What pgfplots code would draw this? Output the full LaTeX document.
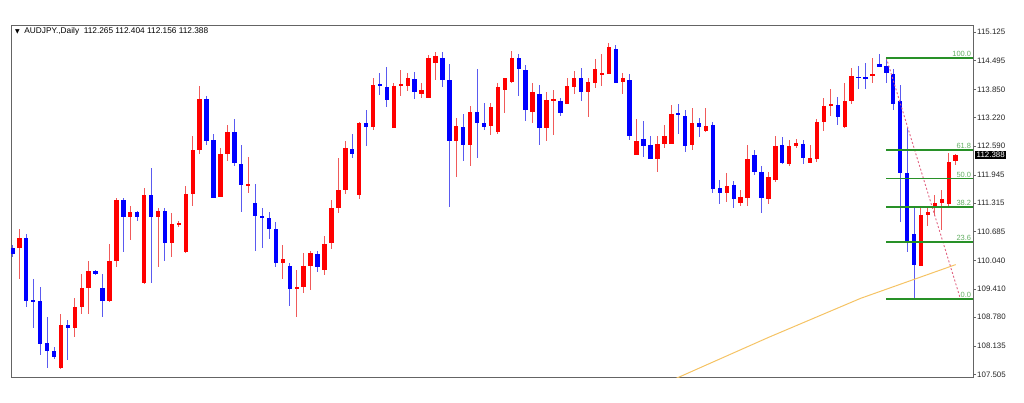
\documentclass[border=0pt]{standalone}
\usepackage{pgfplots}
\pgfplotsset{compat=1.18}
\usepackage{pgfplotstable}
\usetikzlibrary{calc}
\usepackage{fontspec}
\setmainfont{Liberation Sans}
\newfontfamily\dejavu{DejaVu Sans}
\definecolor{upc}{RGB}{255,0,0}
\definecolor{dnc}{RGB}{0,0,255}
\definecolor{upw}{RGB}{240,90,90}
\definecolor{dnw}{RGB}{90,90,240}
\definecolor{fibc}{RGB}{40,145,40}
\definecolor{fibt}{RGB}{100,175,100}
\definecolor{mac}{RGB}{245,195,100}
\definecolor{framec}{RGB}{100,100,100}
\definecolor{fibd}{RGB}{225,100,130}

\pgfplotstableread{
i o h l c
2 110.33 110.75 109.64 110.55
8 107.66 108.86 107.64 108.60
10 108.55 109.20 108.33 109.00
11 109.00 109.75 108.86 109.42
12 109.42 110.04 108.86 109.80
15 109.15 110.42 109.11 110.04
16 110.04 111.44 109.89 111.38
18 111.00 111.26 110.49 111.11
20 109.55 111.66 109.53 111.49
22 111.02 111.20 109.89 111.15
24 110.44 111.09 110.11 110.86
25 110.83 110.93 110.78 110.87
26 110.22 111.71 110.20 111.53
27 111.53 112.82 111.26 112.49
28 112.49 113.93 112.42 113.64
31 111.46 112.55 111.46 112.42
32 112.42 113.06 112.26 112.91
35 111.71 112.35 111.55 111.75
40 109.98 110.38 109.62 110.07
42 109.40 109.84 108.78 109.46
43 109.46 110.20 109.33 109.93
44 109.93 110.26 109.38 110.20
46 109.84 110.58 109.71 110.42
47 110.42 111.38 110.29 111.20
48 111.20 112.33 111.11 111.60
49 111.60 112.71 111.53 112.55
51 111.49 113.13 111.42 113.09
53 113.02 114.09 112.95 113.95
56 112.98 113.98 112.98 113.93
57 113.92 114.29 113.71 113.96
58 113.93 114.22 113.82 114.11
60 113.75 113.98 113.66 113.84
61 113.66 114.62 113.66 114.55
62 114.44 114.69 114.06 114.58
65 112.71 113.22 111.91 113.04
67 112.62 113.49 112.15 113.35
70 113.04 113.55 112.84 113.46
71 112.89 113.98 112.86 113.89
72 113.84 114.11 113.33 114.09
73 114.02 114.71 113.98 114.55
76 113.35 113.98 113.09 113.78
78 113.00 113.78 112.71 113.62
79 113.59 113.84 112.84 113.63
81 113.53 114.11 113.53 113.93
82 113.91 114.26 113.75 114.11
84 113.80 114.11 113.24 114.02
85 114.00 114.53 113.89 114.31
86 114.18 114.64 113.93 114.22
87 114.20 114.89 114.18 114.78
89 114.02 114.22 113.75 114.09
91 112.40 113.20 112.40 112.69
94 112.29 112.80 112.00 112.64
95 112.64 113.06 112.55 112.80
96 112.64 113.51 112.64 113.31
99 112.62 113.44 112.51 113.09
101 112.93 113.44 112.89 113.04
104 111.55 111.98 111.35 111.71
106 111.31 111.60 111.26 111.46
107 111.44 112.62 111.26 112.31
110 111.40 112.00 111.29 111.89
111 111.84 112.80 111.78 112.58
113 112.20 112.73 112.15 112.58
114 112.58 112.75 112.55 112.66
116 112.20 112.62 112.20 112.33
117 112.29 113.20 112.24 113.13
118 113.13 113.66 112.93 113.49
119 113.49 113.86 113.26 113.53
121 113.02 114.00 112.98 113.60
122 113.58 114.33 113.53 114.15
125 114.15 114.55 113.98 114.18
132 109.93 111.20 109.91 111.06
133 111.06 111.26 110.82 111.13
134 111.24 111.49 111.04 111.31
135 111.31 111.60 110.73 111.42
136 111.31 112.44 111.26 112.24
137 112.265 112.404 112.156 112.388
}\up

\pgfplotstableread{
i o h l c
1 110.31 110.38 110.11 110.18
3 110.55 110.64 109.00 109.15
4 109.16 109.64 108.53 109.12
5 109.13 109.46 107.93 108.18
6 108.20 108.78 107.66 108.02
7 108.04 108.11 107.86 107.89
9 108.60 108.71 107.82 108.53
13 109.80 109.82 109.73 109.75
14 109.42 109.75 108.78 109.15
17 111.38 111.44 110.24 111.00
19 111.11 111.15 110.93 111.00
21 111.49 112.09 109.53 111.02
23 111.15 111.20 110.04 110.44
29 113.64 113.71 112.60 112.71
30 112.73 112.86 111.44 111.44
33 112.91 113.20 112.15 112.20
34 112.20 112.60 111.11 111.73
36 111.33 111.75 110.26 111.04
37 111.04 111.20 110.33 111.00
38 110.98 111.13 110.51 110.75
39 110.75 110.89 109.89 109.98
41 109.93 109.98 109.02 109.40
45 110.18 110.26 109.78 109.89
50 112.53 112.86 112.33 112.42
52 113.09 113.40 112.58 113.00
54 113.97 114.22 113.73 113.93
55 113.91 114.35 113.46 113.62
59 114.09 114.24 113.64 113.78
63 114.55 114.69 113.91 114.06
64 114.06 114.42 111.24 112.71
66 113.02 113.31 112.26 112.62
68 113.35 114.31 112.33 113.09
69 113.09 113.55 112.95 113.02
74 114.55 114.64 113.71 114.31
75 114.29 114.38 113.15 113.40
77 113.75 113.95 112.62 113.00
80 113.60 113.66 113.26 113.33
83 114.11 114.33 113.58 113.80
88 114.75 114.84 114.00 114.00
90 114.06 114.20 112.73 112.82
92 112.75 113.15 112.35 112.60
93 112.62 112.82 112.29 112.29
97 113.33 113.53 112.86 113.29
98 113.26 113.40 112.46 112.60
100 113.11 113.22 112.78 113.02
102 113.06 113.13 111.55 111.64
103 111.66 111.84 111.31 111.55
105 111.73 111.82 111.22 111.42
108 112.40 112.51 111.95 112.02
109 112.00 112.15 111.11 111.44
112 112.60 112.78 112.18 112.22
115 112.64 112.73 112.18 112.33
120 113.51 113.69 113.06 113.24
123 114.13 114.38 113.86 114.11
124 114.12 114.44 113.86 114.09
126 114.42 114.64 114.35 114.35
127 114.38 114.53 114.00 114.22
128 114.20 114.31 113.40 113.53
129 113.60 113.95 110.89 111.98
130 111.98 112.98 110.22 110.42
131 110.64 111.20 109.20 109.95
}\down

\begin{document}
\begin{tikzpicture}
\begin{axis}[
  scale only axis,
  width=962pt, height=352pt,
  xmin=0.8, xmax=139.5, ymin=107.45, ymax=115.28,
  xtick=\empty,
  ytick={107.505,108.135,108.780,109.410,110.040,110.685,111.315,111.945,112.590,113.220,113.850,114.495,115.125},
  yticklabels={107.505,108.135,108.780,109.410,110.040,110.685,111.315,111.945,112.590,113.220,113.850,114.495,115.125},
  ytick pos=right, yticklabel pos=right,
  tick align=outside, major tick length=3pt,
  axis line style={framec, line width=0.9pt},
  tick style={framec, line width=0.6pt},
  yticklabel style={font=\fontsize{7.9}{8}\selectfont, inner sep=1pt, text=black!85},
  clip mode=individual,
]
% wicks
\addplot[draw=none, mark=none, forget plot, error bars/.cd, y dir=both, y explicit, error mark=none, error bar style={draw=upw, line width=1pt}]
  table[x=i, y expr={(\thisrow{h}+\thisrow{l})/2}, y error expr={(\thisrow{h}-\thisrow{l})/2}] {\up};
\addplot[draw=none, mark=none, forget plot, error bars/.cd, y dir=both, y explicit, error mark=none, error bar style={draw=dnw, line width=1pt}]
  table[x=i, y expr={(\thisrow{h}+\thisrow{l})/2}, y error expr={(\thisrow{h}-\thisrow{l})/2}] {\down};
% bodies
\addplot[draw=none, mark=none, forget plot, error bars/.cd, y dir=both, y explicit, error mark=none, error bar style={draw=upc, line width=4.4pt}]
  table[x=i, y expr={(\thisrow{o}+\thisrow{c})/2}, y error expr={abs(\thisrow{c}-\thisrow{o})/2}] {\up};
\addplot[draw=none, mark=none, forget plot, error bars/.cd, y dir=both, y explicit, error mark=none, error bar style={draw=dnc, line width=4.4pt}]
  table[x=i, y expr={(\thisrow{o}+\thisrow{c})/2}, y error expr={abs(\thisrow{c}-\thisrow{o})/2}] {\down};
% moving average
\addplot[mac, line width=1pt, mark=none] coordinates {(96.7,107.42) (110,108.33) (123.3,109.20) (137,109.95)};
% fibonacci dashed trendline
\addplot[fibd, line width=0.9pt, dash pattern=on 2pt off 2pt, mark=none] coordinates {(127,114.55) (137.7,109.18)};
% fibonacci levels
\addplot[fibc, line width=1.5pt, mark=none] coordinates {(127,114.55) (139.5,114.55)};
\addplot[fibc, line width=1.5pt, mark=none] coordinates {(127,112.50) (139.5,112.50)};
\addplot[fibc, line width=1.5pt, mark=none] coordinates {(127,111.865) (139.5,111.865)};
\addplot[fibc, line width=1.5pt, mark=none] coordinates {(127,111.23) (139.5,111.23)};
\addplot[fibc, line width=1.5pt, mark=none] coordinates {(127,110.45) (139.5,110.45)};
\addplot[fibc, line width=1.5pt, mark=none] coordinates {(127,109.18) (139.5,109.18)};
\begin{scope}[every node/.style={anchor=south east, text=fibt, font=\fontsize{7.5}{8}\selectfont, inner sep=1pt}]
\node at (axis cs:139.4,114.55) {100.0};
\node at (axis cs:139.4,112.50) {61.8};
\node at (axis cs:139.4,111.865) {50.0};
\node at (axis cs:139.4,111.23) {38.2};
\node at (axis cs:139.4,110.45) {23.6};
\node at (axis cs:139.4,109.18) {0.0};
\end{scope}
\node[anchor=west, fill=black, text=white, font=\fontsize{7.9}{8}\selectfont, inner sep=1.5pt, xshift=2pt] at (axis cs:139.5,112.388) {112.388};
\end{axis}
\node[anchor=west, font=\fontsize{8.3}{9}\selectfont, inner sep=0pt] at ($(current axis.south west)+(4pt,346pt)$) {{\dejavu\fontsize{6}{7}\selectfont ▼}\ \ AUDJPY.,Daily\ \ 112.265 112.404 112.156 112.388};
\pgfresetboundingbox
\path[use as bounding box] ($(current axis.south west)+(-11pt,-25pt)$) rectangle ++(1024pt,402pt);
\end{tikzpicture}
\end{document}
